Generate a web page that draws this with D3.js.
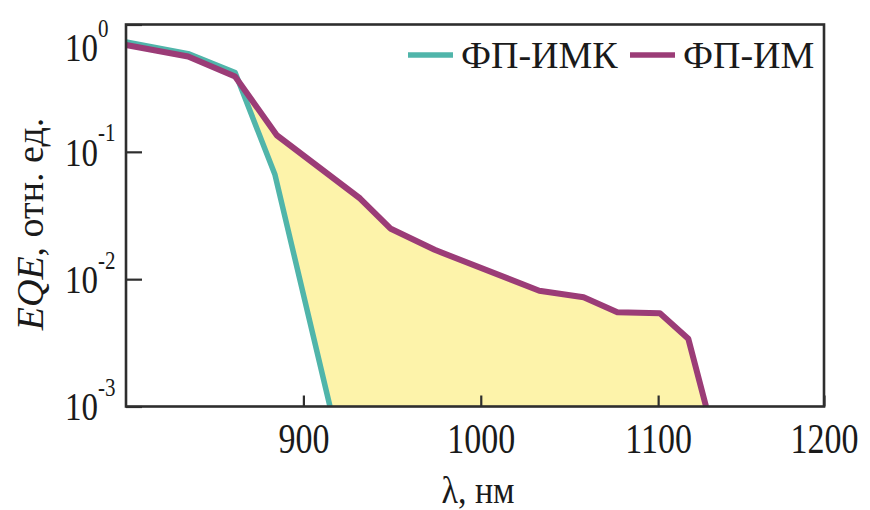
<!DOCTYPE html>
<html>
<head>
<meta charset="utf-8">
<script src="https://cdn.jsdelivr.net/npm/d3@7"></script>
<style>
  html, body { margin: 0; padding: 0; background: #fff; }
  svg, svg text { font-family: "Liberation Serif", "Times New Roman", serif; }
  svg { display: block; }
</style>
</head>
<body>
<svg id="chart" width="870" height="510"></svg>
<script>
// External quantum efficiency spectra of two photodetector structures
const seriesNames = ["ФП-ИМК", "ФП-ИМ"];
const wavelengthIMK = [800, 835, 861.5, 884, 915];
const eqeIMK = [0.73, 0.59, 0.42, 0.066, 0.001];
const wavelengthIM = [800, 835, 861.5, 885, 932, 949, 974, 1033, 1058, 1077, 1101, 1117, 1127];
const eqeIM = [0.69, 0.56, 0.39, 0.135, 0.043, 0.025, 0.017, 0.0081, 0.0072, 0.0055, 0.0054, 0.0034, 0.001];
const xTicks = [900, 1000, 1100, 1200];
const yTicks = [1e-3, 1e-2, 1e-1, 1];
const yTickExponents = ["-3", "-2", "-1", "0"];
const xTitle = "λ, нм";
const yTitleItalic = "EQE";
const yTitleRest = ", отн. ед.";

const serif = '"Liberation Serif", "Times New Roman", serif';
const colors = { imk: "#50b5aa", im: "#9b3c77", fill: "#fdf3aa", frame: "#2e2e2e", text: "#1a1a1a" };

const svg = d3.select("#chart");
const plotLeft = 126, plotRight = 824, plotTop = 24.5, plotBottom = 406.5;

const x = d3.scaleLinear().domain([800, 1193.5]).range([plotLeft, plotRight]).clamp(true);
const y = d3.scaleLog().domain([1e-3, 1]).range([plotBottom, plotTop]);

const imk = wavelengthIMK.map((w, i) => ({ w, v: eqeIMK[i] }));
const im = wavelengthIM.map((w, i) => ({ w, v: eqeIM[i] }));

// Shaded gap between the two spectra, from where they separate
const splitW = 861.5;
const fillPts = im.filter(d => d.w >= splitW)
  .concat(imk.filter(d => d.w >= splitW).reverse());
const line = d3.line().x(d => x(d.w)).y(d => y(d.v));
svg.append("path")
  .attr("d", line(fillPts) + "Z")
  .attr("fill", colors.fill)
  .attr("stroke", "none");

svg.append("path").datum(imk).attr("d", line)
  .attr("fill", "none").attr("stroke", colors.imk).attr("stroke-width", 5.5)
  .attr("stroke-linejoin", "round");
svg.append("path").datum(im).attr("d", line)
  .attr("fill", "none").attr("stroke", colors.im).attr("stroke-width", 6)
  .attr("stroke-linejoin", "round");

// X axis: ticks point inward, labels below
const xAxis = svg.append("g").attr("transform", `translate(0,${plotBottom})`)
  .call(d3.axisBottom(x).tickValues(xTicks).tickSize(-11).tickPadding(0).tickFormat(""))
  .attr("font-family", serif);
xAxis.select(".domain").remove();
xAxis.selectAll(".tick line").attr("stroke", colors.frame).attr("stroke-width", 2.2);
xAxis.selectAll(".tick").each(function (d) {
  d3.select(this).append("g")
    .attr("transform", "translate(0,46) scale(1,1.22)")
    .append("text")
    .attr("text-anchor", "middle")
    .attr("fill", colors.text)
    .attr("font-size", 34)
    .text(d3.format("d")(d));
});

// Y axis: powers of ten with superscript exponents
const yAxis = svg.append("g").attr("transform", `translate(${plotLeft},0)`)
  .call(d3.axisLeft(y).tickValues(yTicks).tickSize(-16).tickPadding(0).tickFormat(""))
  .attr("font-family", serif);
yAxis.select(".domain").remove();
yAxis.selectAll(".tick line").attr("stroke", colors.frame).attr("stroke-width", 2.2);
yAxis.selectAll(".tick").each(function (d) {
  const shift = d === 1 ? 23 : 0;
  const g = d3.select(this).append("g")
    .attr("transform", `translate(-28,${shift}) scale(1,1.22)`)
    .attr("fill", colors.text);
  g.append("text").attr("text-anchor", "end").attr("y", 11).attr("font-size", 33).text("10");
  g.append("text").attr("text-anchor", "start").attr("x", 0).attr("y", -9)
    .attr("font-size", 21).text(yTickExponents[yTicks.indexOf(d)]);
});

// Plot frame
svg.append("rect")
  .attr("x", plotLeft).attr("y", plotTop)
  .attr("width", plotRight - plotLeft).attr("height", plotBottom - plotTop)
  .attr("fill", "none").attr("stroke", colors.frame).attr("stroke-width", 2.6);

// Axis titles
svg.append("g").attr("transform", "translate(478,503) scale(1,1.12)")
  .append("text").attr("text-anchor", "middle").attr("font-size", 34).attr("fill", colors.text)
  .attr("font-family", serif)
  .text(xTitle);

const yt = svg.append("g").attr("transform", "translate(43,224) rotate(-90)")
  .append("text").attr("text-anchor", "middle").attr("font-size", 38).attr("fill", colors.text)
  .attr("font-family", serif);
yt.append("tspan").attr("font-style", "italic").text(yTitleItalic);
yt.append("tspan").text(yTitleRest);

// Legend
const legendItems = [
  { name: seriesNames[0], color: colors.imk, x0: 408 },
  { name: seriesNames[1], color: colors.im, x0: 630 }
];
const lg = svg.append("g").attr("font-family", serif);
legendItems.forEach(it => {
  lg.append("line").attr("x1", it.x0).attr("x2", it.x0 + 45).attr("y1", 55).attr("y2", 55)
    .attr("stroke", it.color).attr("stroke-width", 5.5);
  lg.append("text").attr("x", it.x0 + 53).attr("y", 68).attr("font-size", 38)
    .attr("fill", colors.text).text(it.name);
});
</script>
</body>
</html>
